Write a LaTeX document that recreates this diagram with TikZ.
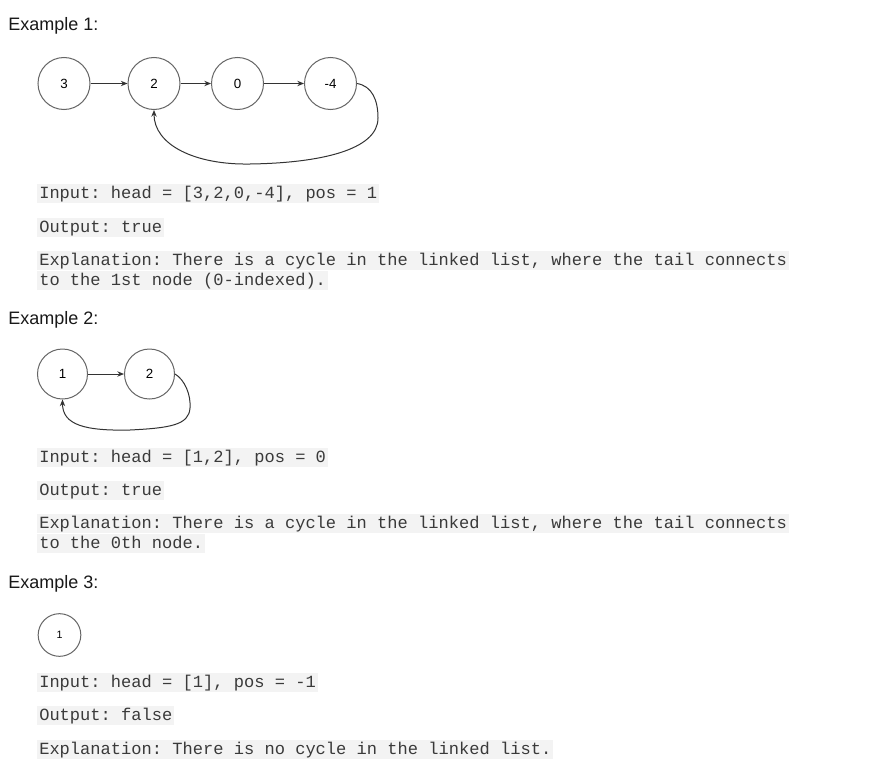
\documentclass[tikz,border=0pt]{standalone}
\usepackage{fontspec}
\setmainfont{Liberation Sans}
\newfontfamily\codefont{Liberation Mono}
\usetikzlibrary{arrows.meta}
\frenchspacing
\definecolor{ringGray}{HTML}{666666}
\definecolor{linkGray}{HTML}{333333}
\definecolor{codeBg}{HTML}{F3F3F3}
\definecolor{codeInk}{HTML}{3A3A3A}

\begin{document}
\begin{tikzpicture}[
  x=0.75pt, y=-0.75pt,
  >={Stealth[length=5pt, width=4pt]},
  title/.style={anchor=base west, inner sep=0pt, text=black!90,
               font=\fontsize{13.5}{16}\selectfont},
  item/.style={circle, draw=ringGray, line width=0.75pt, inner sep=0pt,
               minimum size=39pt, font=\fontsize{10}{12}\selectfont},
  link/.style={->, draw=linkGray, line width=0.75pt},
  code/.style={anchor=west, fill=codeBg, text=codeInk, inner xsep=1.5pt,
               inner ysep=0.6pt, text height=10pt, text depth=3pt,
               font=\codefont\fontsize{12.8}{15}\selectfont},
]
\fill[white] (0,0) rectangle (891,767);
\useasboundingbox (0,0) rectangle (891,767);

% ── example 1 ────────────────────────────────────────────────────────────────
\node[title] (t1) at (8,31) {Example 1:};
\node[item] (e1a) at (64,83.5) {3};
\node[item] (e1b) at (154,83.5) {2};
\node[item] (e1c) at (237.5,83.5) {0};
\node[item] (e1d) at (330.5,83.5) {-4};
\draw[link] (e1a) -- (e1b);
\draw[link] (e1b) -- (e1c);
\draw[link] (e1c) -- (e1d);
\draw[link] (e1d.east) .. controls (372,86) and (378,100) .. (378,118)
  .. controls (378,150) and (320,163) .. (250,164)
  .. controls (195,165) and (154,145) .. (e1b.south);

\node[code] (in1) at (37,193.5) {Input: head = [3,2,0,-4], pos = 1};
\node[code] (out1) at (37,227.5) {Output: true};
\node[code] (ex1a) at (37,260.5) {Explanation: There is a cycle in the linked list, where the tail connects};
\node[code] (ex1b) at (37,280.5) {to the 1st node (0-indexed).};

% ── example 2 ────────────────────────────────────────────────────────────────
\node[title] (t2) at (8,324) {Example 2:};
\node[item, minimum size=37.5pt] (e2a) at (62.5,374) {1};
\node[item, minimum size=37.5pt] (e2b) at (149.5,374) {2};
\draw[link] (e2a) -- (e2b);
\draw[link] (e2b.east) .. controls (185,380) and (191,395) .. (190,408)
  .. controls (189,425) and (170,428) .. (130,430)
  .. controls (85,431) and (62.5,425) .. (e2a.south);

\node[code] (in2) at (37,457.5) {Input: head = [1,2], pos = 0};
\node[code] (out2) at (37,490.5) {Output: true};
\node[code] (ex2a) at (37,523.5) {Explanation: There is a cycle in the linked list, where the tail connects};
\node[code] (ex2b) at (37,543.5) {to the 0th node.};

% ── example 3 ────────────────────────────────────────────────────────────────
\node[title] (t3) at (8,588) {Example 3:};
\node[item, minimum size=32pt, font=\fontsize{8}{10}\selectfont] (e3a) at (59.5,635) {1};

\node[code] (in3) at (37,682.5) {Input: head = [1], pos = -1};
\node[code] (out3) at (37,715.5) {Output: false};
\node[code] (ex3a) at (37,749.5) {Explanation: There is no cycle in the linked list.};

\end{tikzpicture}
\end{document}
